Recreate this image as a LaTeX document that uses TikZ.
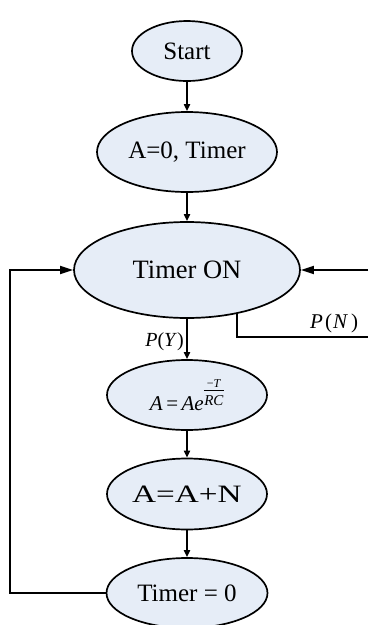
\documentclass[tikz,border=0pt]{standalone}
\usepackage{fontspec}
\setmainfont{Liberation Serif}
\usetikzlibrary{arrows.meta,shapes.geometric,calc}

\definecolor{stepfill}{RGB}{230,237,247}

% small stacked exponent  -T / RC
\newcommand{\expfrac}[2]{%
  \raisebox{5pt}{\fontsize{12}{8}\selectfont
    \setlength{\arrayrulewidth}{0.8pt}%
    \begin{tabular}[b]{@{\hspace{0.5pt}}c@{\hspace{0.5pt}}}
      #1\\\hline
      \rule{0pt}{15pt}{\fontsize{15}{15}\selectfont #2}
    \end{tabular}}}

\tikzset{
  stepnode/.style={ellipse, draw=black, line width=1.7pt, fill=stepfill,
    inner sep=0pt, font=\fontsize{25}{30}\selectfont},
  flow/.style={line width=1.8pt, -{Triangle[length=7pt,width=6pt]}},
  sideflow/.style={line width=1.8pt, -{Triangle[length=13pt,width=8pt]}},
  plainline/.style={line width=1.8pt},
  condlabel/.style={inner sep=0pt, font=\fontsize{20}{24}\selectfont}
}

\begin{document}
\begin{tikzpicture}[x=1pt,y=-1pt]
  \useasboundingbox (0,0) rectangle (368,625);

  % process steps
  \node[stepnode, minimum width=110pt, minimum height=60pt] (start) at (187,51) {Start};
  \node[stepnode, minimum width=180pt, minimum height=80pt] (init) at (187,152) {A=0, Timer};
  \node[stepnode, minimum width=226pt, minimum height=96pt,
        font=\fontsize{26.5}{30}\selectfont] (timeron) at (187,270) {Timer ON};
  \node[stepnode, minimum width=160pt, minimum height=70pt,
        font=\fontsize{21}{24}\selectfont] (decay) at (187,395)
        {\textit{A}\,=\,\textit{Ae}\expfrac{−\textit{T}}{\textit{RC}}\hspace{8pt}};
  \node[stepnode, minimum width=160pt, minimum height=71pt] (add) at (187,494)
        {\scalebox{1.33}[1]{A=A+N}};
  \node[stepnode, minimum width=161pt, minimum height=70pt] (reset) at (187,593) {Timer = 0};

  % branch labels
  \node[condlabel, anchor=base east] (py) at (184,346) {\textit{P}(\textit{Y})};
  \node[condlabel, anchor=base west, font=\fontsize{21}{24}\selectfont] (pn) at (310,328)
        {\textit{P}\kern2pt(\kern1pt\textit{N}\kern3pt)};

  % loop corners and open ends
  \coordinate (lb) at (10,593);
  \coordinate (rin) at (368,270);
  \coordinate (pnend) at (368,337);

  % main sequence
  \draw[flow] (start) -- (init);
  \draw[flow] (init) -- (timeron);
  \draw[flow] (timeron) -- (decay);
  \draw[flow] (decay) -- (add);
  \draw[flow] (add) -- (reset);

  % return paths
  \draw[sideflow] (reset.west) -- (lb) |- (timeron.west);
  \draw[sideflow] (rin) -- (timeron.east);
  \draw[plainline] (timeron.-41.5) |- (pnend);
\end{tikzpicture}
\end{document}
